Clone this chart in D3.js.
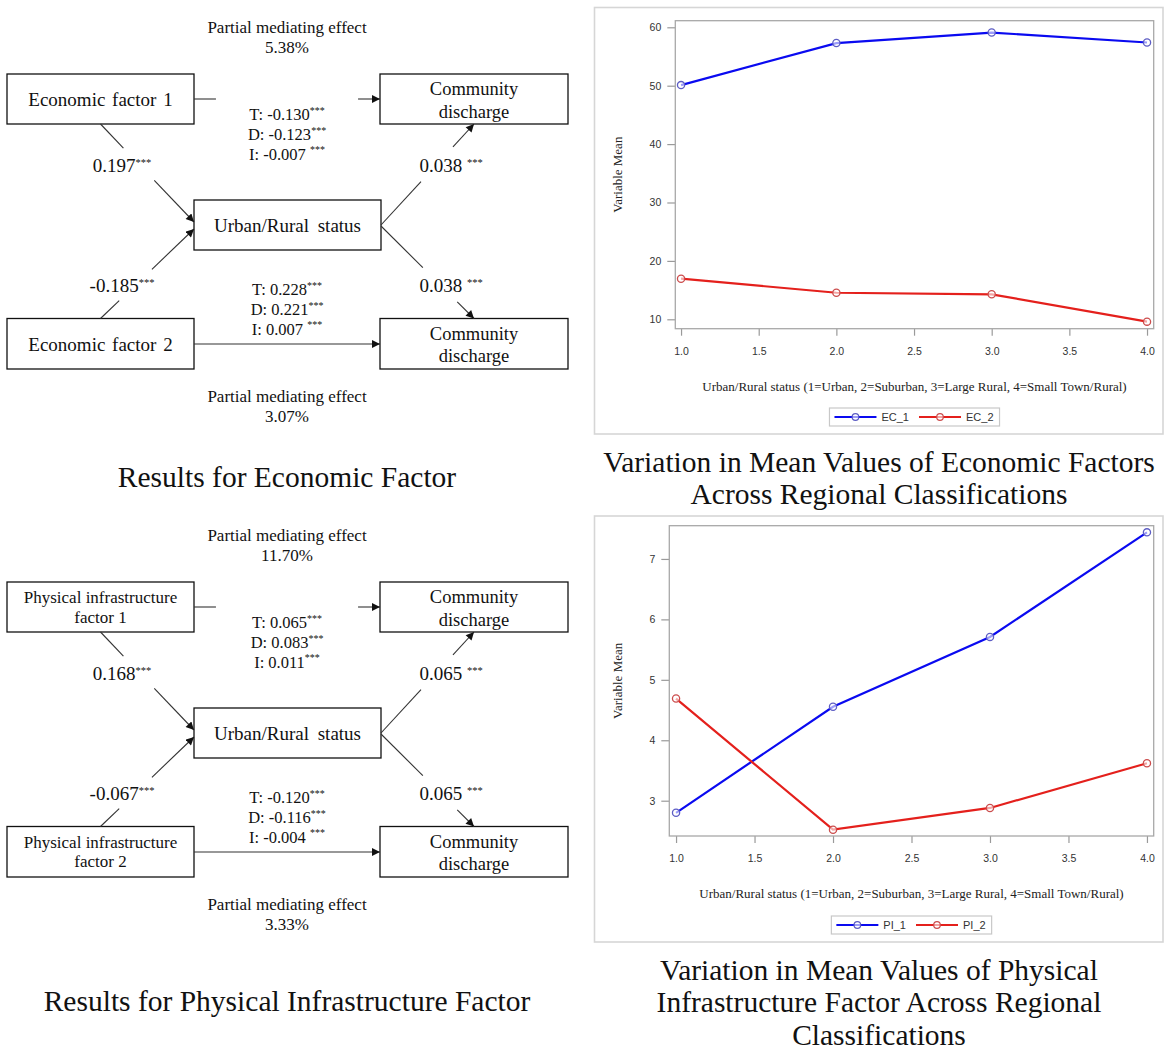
<!DOCTYPE html>
<html><head><meta charset="utf-8">
<script src="https://cdn.jsdelivr.net/npm/d3@7"></script>
<style>body{margin:0;background:#fff} svg{display:block}</style>
</head><body><svg id="c" width="1169" height="1059"></svg>
<script>
// ---------------- DATA ----------------
const regionX = [1, 2, 3, 4];
const ec1 = [50.1, 57.3, 59.1, 57.4];
const ec2 = [16.95, 14.55, 14.28, 9.6];
const pi1 = [2.8, 4.555, 5.71, 7.44];
const pi2 = [4.69, 2.52, 2.88, 3.62];
const xTicks = [1, 1.5, 2, 2.5, 3, 3.5, 4];
const ecYTicks = [10, 20, 30, 40, 50, 60];
const piYTicks = [3, 4, 5, 6, 7];
const ecSeriesNames = ["EC_1", "EC_2"];
const piSeriesNames = ["PI_1", "PI_2"];
const xAxisLabel = "Urban/Rural status (1=Urban, 2=Suburban, 3=Large Rural, 4=Small Town/Rural)";
const yAxisLabel = "Variable Mean";

const econPredictors = [["Economic factor 1"], ["Economic factor 2"]];
const econPathA = ["0.197", "-0.185"];
const econPathB = ["0.038\u00a0", "0.038\u00a0"];
const econEffects = [["T: -0.130", "D: -0.123", "I: -0.007\u00a0"], ["T: 0.228", "D: 0.221", "I: 0.007\u00a0"]];
const econMediation = ["5.38%", "3.07%"];

const infraPredictors = [["Physical infrastructure", "factor 1"], ["Physical infrastructure", "factor 2"]];
const infraPathA = ["0.168", "-0.067"];
const infraPathB = ["0.065\u00a0", "0.065\u00a0"];
const infraEffects = [["T: 0.065", "D: 0.083", "I: 0.011"], ["T: -0.120", "D: -0.116", "I: -0.004\u00a0"]];
const infraMediation = ["11.70%", "3.33%"];

const panelTitles = ["Results for Economic Factor", "Results for Physical Infrastructure Factor"];
const chartTitles = [["Variation in Mean Values of Economic Factors", "Across Regional Classifications"],
                     ["Variation in Mean Values of Physical", "Infrastructure Factor Across Regional", "Classifications"]];

// ---------------- SETUP ----------------
const svg = d3.select("#c");
svg.append("rect").attr("width", 1169).attr("height", 1059).attr("fill", "#fff");
const SERIF = "'Liberation Serif','Times New Roman',Times,serif";
const SANS = "'Liberation Sans',Arial,Helvetica,sans-serif";
const BLUE = "#0a0af0", RED = "#e4201c";
const BLUE_M = "#5d5dc4", RED_M = "#cc4d4d";

const defs = svg.append("defs");
defs.append("marker").attr("id", "arr").attr("viewBox", "0 0 10 10")
  .attr("refX", 10).attr("refY", 5).attr("markerWidth", 9).attr("markerHeight", 8)
  .attr("markerUnits", "userSpaceOnUse").attr("orient", "auto")
  .append("path").attr("d", "M0,0 L10,5 L0,10 z").attr("fill", "#111");

// ---------------- DIAGRAM ----------------
function supText(g, x, y, main, size, supSize) {
  const t = g.append("text").attr("x", x).attr("y", y).attr("text-anchor", "middle")
    .attr("font-family", SERIF).attr("font-size", size).attr("fill", "#111");
  t.append("tspan").text(main);
  t.append("tspan").attr("font-size", supSize).attr("dy", -6.5).text("***");
  return t;
}

function drawDiagram(dy, predictors, pathA, pathB, effects, mediation, predFont) {
  const g = svg.append("g").attr("transform", `translate(0,${dy})`);
  const boxes = {
    X1: [7, 74, 194, 124], Y1: [380, 74, 568, 124], M: [194, 200, 381, 250],
    X2: [7, 318.5, 194, 369], Y2: [380, 318.5, 568, 369]
  };
  Object.values(boxes).forEach(b => {
    g.append("rect").attr("x", b[0]).attr("y", b[1]).attr("width", b[2] - b[0]).attr("height", b[3] - b[1])
      .attr("fill", "#fff").attr("stroke", "#111").attr("stroke-width", 1.3);
  });
  const cx = b => (b[0] + b[2]) / 2, cy = b => (b[1] + b[3]) / 2;

  // predictor labels
  [boxes.X1, boxes.X2].forEach((b, i) => {
    const lines = predictors[i];
    if (lines.length === 1) {
      g.append("text").attr("x", cx(b)).attr("y", cy(b) + 7).attr("text-anchor", "middle")
        .attr("font-family", SERIF).attr("font-size", 19).attr("word-spacing", 2).attr("fill", "#111").text(lines[0]);
    } else {
      lines.forEach((l, j) => g.append("text").attr("x", cx(b)).attr("y", cy(b) - 4 + j * 19.5)
        .attr("text-anchor", "middle").attr("font-family", SERIF).attr("font-size", predFont).attr("fill", "#111").text(l));
    }
  });
  [boxes.Y1, boxes.Y2].forEach(b => {
    ["Community", "discharge"].forEach((l, j) => g.append("text").attr("x", cx(b)).attr("y", cy(b) - 4 + j * 22.5)
      .attr("text-anchor", "middle").attr("font-family", SERIF).attr("font-size", 18.5).attr("fill", "#111").text(l));
  });
  g.append("text").attr("x", cx(boxes.M)).attr("y", cy(boxes.M) + 7).attr("text-anchor", "middle")
    .attr("font-family", SERIF).attr("font-size", 19).attr("word-spacing", 4).attr("fill", "#111").text("Urban/Rural status");

  // edges: [A, B, visible pieces]
  const edges = [
    [[194, 99], [380, 99], [[0, 0.118], [0.882, 1]]],
    [[100.5, 124], [194, 222], [[0, 0.245], [0.575, 1]]],
    [[100.5, 318.5], [194, 229], [[0, 0.2], [0.55, 1]]],
    [[381, 225], [474, 124], [[0, 0.43], [0.774, 1]]],
    [[381, 226], [474, 318.5], [[0, 0.45], [0.82, 1]]],
    [[194, 344], [380, 344], [[0, 1]]]
  ];
  edges.forEach(([A, B, pieces]) => {
    pieces.forEach((p, k) => {
      const P = t => [A[0] + (B[0] - A[0]) * t, A[1] + (B[1] - A[1]) * t];
      const s = P(p[0]), e = P(p[1]);
      const ln = g.append("line").attr("x1", s[0]).attr("y1", s[1]).attr("x2", e[0]).attr("y2", e[1])
        .attr("stroke", "#333").attr("stroke-width", 1.1);
      if (k === pieces.length - 1) ln.attr("marker-end", "url(#arr)");
    });
  });

  // texts
  const pmeY = [[33, 53], [402, 422]];
  pmeY.forEach((ys, i) => {
    g.append("text").attr("x", 287).attr("y", ys[0]).attr("text-anchor", "middle").attr("font-family", SERIF)
      .attr("font-size", 17).attr("fill", "#111").text("Partial mediating effect");
    g.append("text").attr("x", 287).attr("y", ys[1]).attr("text-anchor", "middle").attr("font-family", SERIF)
      .attr("font-size", 17).attr("fill", "#111").text(mediation[i]);
  });
  const tdiY = [[120, 140, 159.5], [295, 315, 334.5]];
  effects.forEach((lines, i) => lines.forEach((l, j) => supText(g, 287, tdiY[i][j], l, 16.5, 10)));
  supText(g, 122, 172, pathA[0], 19, 10.5);
  supText(g, 122, 292, pathA[1], 19, 10.5);
  supText(g, 451, 172, pathB[0], 19, 10.5);
  supText(g, 451, 292, pathB[1], 19, 10.5);
}

drawDiagram(0, econPredictors, econPathA, econPathB, econEffects, econMediation, 17);
drawDiagram(508, infraPredictors, infraPathA, infraPathB, infraEffects, infraMediation, 17);

// ---------------- LINE CHARTS ----------------
function lineChart(cfg) {
  const g = svg.append("g");
  const [fx0, fy0, fx1, fy1] = cfg.frame;
  const [px0, py0, px1, py1] = cfg.plot;
  g.append("rect").attr("x", fx0).attr("y", fy0).attr("width", fx1 - fx0).attr("height", fy1 - fy0)
    .attr("fill", "#fff").attr("stroke", "#d6d6d6").attr("stroke-width", 1.6);
  const x = d3.scaleLinear().domain(cfg.xDomain).range([px0, px1]);
  const y = d3.scaleLinear().domain(cfg.yDomain).range([py1, py0]);

  const ya = g.append("g").attr("transform", `translate(${px0},0)`)
    .call(d3.axisLeft(y).tickValues(cfg.yTicks).tickSize(8).tickPadding(6).tickFormat(d3.format("d")));
  const xa = g.append("g").attr("transform", `translate(0,${py1})`)
    .call(d3.axisBottom(x).tickValues(xTicks).tickSize(7).tickPadding(12).tickFormat(d3.format(".1f")));
  [ya, xa].forEach(a => {
    a.select(".domain").remove();
    a.selectAll(".tick line").attr("stroke", "#9a9a9a").attr("stroke-width", 1.2);
    a.selectAll(".tick text").attr("fill", "#333").attr("font-family", SANS).attr("font-size", 10.5);
  });
  g.append("rect").attr("x", px0).attr("y", py0).attr("width", px1 - px0).attr("height", py1 - py0)
    .attr("fill", "none").attr("stroke", "#a8a8a8").attr("stroke-width", 1.3);

  const colors = [BLUE, RED], mcolors = [BLUE_M, RED_M];
  cfg.series.forEach((vals, si) => {
    const pts = regionX.map((xv, i) => [xv, vals[i]]);
    g.append("path").attr("d", d3.line().x(d => x(d[0])).y(d => y(d[1]))(pts))
      .attr("fill", "none").attr("stroke", colors[si]).attr("stroke-width", 2.2);
    g.selectAll(null).data(pts).enter().append("circle")
      .attr("cx", d => x(d[0])).attr("cy", d => y(d[1])).attr("r", 3.6)
      .attr("fill", "#fff").attr("fill-opacity", 0.6).attr("stroke", mcolors[si]).attr("stroke-width", 1.3);
  });

  g.append("text").attr("x", (px0 + px1) / 2).attr("y", cfg.xLabelY).attr("text-anchor", "middle")
    .attr("font-family", SERIF).attr("font-size", 13).attr("fill", "#222").text(xAxisLabel);
  g.append("text").attr("transform", `translate(622,${(py0 + py1) / 2}) rotate(-90)`).attr("text-anchor", "middle")
    .attr("font-family", SERIF).attr("font-size", 13).attr("fill", "#222").text(yAxisLabel);

  // legend
  const lg = g.append("g");
  const box = lg.append("rect").attr("y", cfg.legendY).attr("height", 18).attr("fill", "#fff")
    .attr("stroke", "#c8c8c8").attr("stroke-width", 1.2);
  let cur = 5;
  cfg.names.forEach((nm, si) => {
    const lw = 42;
    const my = cfg.legendY + 9;
    lg.append("line").attr("x1", cur).attr("x2", cur + lw).attr("y1", my).attr("y2", my)
      .attr("stroke", colors[si]).attr("stroke-width", 2.2);
    lg.append("circle").attr("cx", cur + lw / 2).attr("cy", my).attr("r", 3.3)
      .attr("fill", "#fff").attr("fill-opacity", 0.6).attr("stroke", mcolors[si]).attr("stroke-width", 1.2);
    cur += lw + 5;
    const t = lg.append("text").attr("x", cur).attr("y", cfg.legendY + 13).attr("font-family", SANS)
      .attr("font-size", 11).attr("fill", "#333").text(nm);
    cur += t.node().getComputedTextLength();
    cur += si === 0 ? 10 : 6;
  });
  box.attr("x", 0).attr("width", cur);
  lg.attr("transform", `translate(${(px0 + px1) / 2 - cur / 2},0)`);
}

lineChart({
  frame: [594.5, 7.5, 1163, 434], plot: [675.3, 20.7, 1153.7, 328.7],
  xDomain: [0.963, 4.043], yDomain: [8.39, 61.13], yTicks: ecYTicks,
  series: [ec1, ec2], names: ecSeriesNames, xLabelY: 390.5, legendY: 408
});
lineChart({
  frame: [594.5, 516, 1163, 942], plot: [669.3, 525.7, 1153.7, 836],
  xDomain: [0.957, 4.043], yDomain: [2.416, 7.55], yTicks: piYTicks,
  series: [pi1, pi2], names: piSeriesNames, xLabelY: 898, legendY: 916
});

// ---------------- TITLES ----------------
const tFont = 29.5;
svg.append("text").attr("x", 287).attr("y", 487).attr("text-anchor", "middle").attr("font-family", SERIF)
  .attr("font-size", tFont).attr("fill", "#111").text(panelTitles[0]);
svg.append("text").attr("x", 287).attr("y", 1011).attr("text-anchor", "middle").attr("font-family", SERIF)
  .attr("font-size", tFont).attr("fill", "#111").text(panelTitles[1]);
const ctY = [[472, 504], [980, 1012, 1045]];
chartTitles.forEach((lines, i) => lines.forEach((l, j) =>
  svg.append("text").attr("x", 879).attr("y", ctY[i][j]).attr("text-anchor", "middle").attr("font-family", SERIF)
    .attr("font-size", tFont).attr("fill", "#111").text(l)));
</script></body></html>
